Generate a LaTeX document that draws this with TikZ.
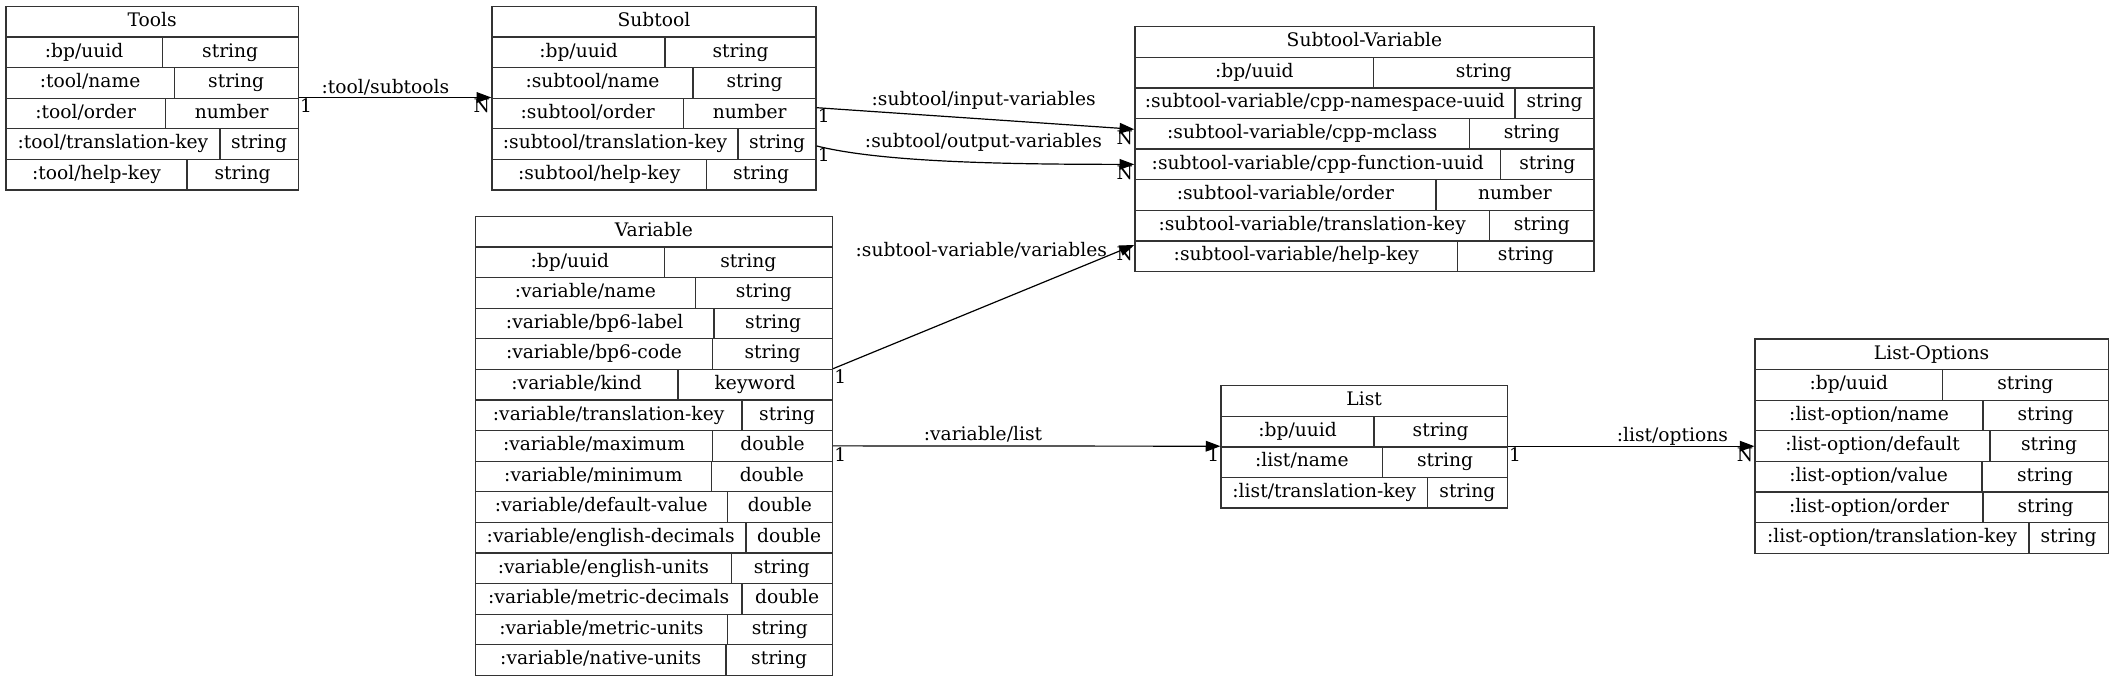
\documentclass[tikz,border=0pt]{standalone}
\usepackage{fontspec}
\setmainfont{DejaVu Serif}
\usetikzlibrary{arrows.meta}

\tikzset{
    cell/.style={draw=black!80, line width=1pt, inner sep=0pt, anchor=north west,
        minimum height=22.95pt, text height=10.5pt, text depth=3.3pt, font=\fontsize{14}{16}\selectfont},
    link/.style={draw=black, line width=0.9pt, -{Triangle[length=11pt, width=8pt]}},
    edgelabel/.style={inner sep=0pt, text height=10.5pt, text depth=3.3pt, font=\fontsize{14}{16}\selectfont},
    endlabel/.style={inner sep=0.5pt, text height=10.5pt, text depth=0pt, font=\fontsize{14}{16}\selectfont}
}

% table: id, left, right, top, title, rows key/type/split
\newcommand{\erTable}[6]{
    \node[cell, minimum width={(#3-#2)*0.75pt}] (#1-0) at (#2, #4) {#5};
    \foreach [count=\i] \k/\t/\d in {#6} {
            \node[cell, minimum width={(\d-#2)*0.75pt}] (#1-\i-k) at (#2, {#4+\i*30.6}) {\k};
            \node[cell, minimum width={(#3-\d)*0.75pt}] (#1-\i-t) at (\d, {#4+\i*30.6}) {\t};
        }
}

\begin{document}
\begin{tikzpicture}[x=0.75pt, y=-0.75pt]
    \useasboundingbox[fill=white] (0,0) rectangle (2112,682);

    \erTable{tools}{5.3}{297.5}{5.7}{Tools}{
        {:bp/uuid}/string/161.5, {:tool/name}/string/173.6, {:tool/order}/number/164.6,
        {:tool/translation-key}/string/219.2, {:tool/help-key}/string/186.3}
    \erTable{subtool}{491.3}{815.3}{5.7}{Subtool}{
        {:bp/uuid}/string/664.4, {:subtool/name}/string/692.4, {:subtool/order}/number/682.9,
        {:subtool/translation-key}/string/737.4, {:subtool/help-key}/string/705.7}
    \erTable{svar}{1134.2}{1593.4}{26}{Subtool-Variable}{
        {:bp/uuid}/string/1373, {:subtool-variable/cpp-namespace-uuid}/string/1514.3,
        {:subtool-variable/cpp-mclass}/string/1468.9, {:subtool-variable/cpp-function-uuid}/string/1500,
        {:subtool-variable/order}/number/1435.2, {:subtool-variable/translation-key}/string/1488.8,
        {:subtool-variable/help-key}/string/1457.1}
    \erTable{variable}{474.7}{831.7}{215.7}{Variable}{
        {:bp/uuid}/string/663.7, {:variable/name}/string/694.7, {:variable/bp6-label}/string/713.3,
        {:variable/bp6-code}/string/712, {:variable/kind}/keyword/677.3,
        {:variable/translation-key}/string/741.3, {:variable/maximum}/double/712,
        {:variable/minimum}/double/710.7, {:variable/default-value}/double/726.7,
        {:variable/english-decimals}/double/745.3, {:variable/english-units}/string/730.7,
        {:variable/metric-decimals}/double/741.3, {:variable/metric-units}/string/726.7,
        {:variable/native-units}/string/725.3}
    \erTable{list}{1220.4}{1506.6}{385}{List}{
        {:bp/uuid}/string/1373.4, {:list/name}/string/1382.1, {:list/translation-key}/string/1426.9}
    \erTable{options}{1754.4}{2107.5}{338.3}{List-Options}{
        {:bp/uuid}/string/1941.7, {:list-option/name}/string/1982.4, {:list-option/default}/string/1989.4,
        {:list-option/value}/string/1981.3, {:list-option/order}/string/1982.4,
        {:list-option/translation-key}/string/2028.4}

    \draw[link] (tools-3-t.north east) node[endlabel, anchor=north west] {1}
        -- node[edgelabel, pos=0.45, yshift=6.9pt] {:tool/subtools}
        (subtool-3-k.north west) node[endlabel, anchor=north east] {N};
    \draw[link] ([yshift=-7.65pt]subtool-3-t.north east) node[endlabel, anchor=north west] {1}
        -- node[edgelabel, pos=0.526, yshift=13.7pt] {:subtool/input-variables}
        ([yshift=-8.6pt]svar-3-k.north west) node[endlabel, anchor=north east] {N};
    \draw[link] ([yshift=-13.4pt]subtool-4-t.north east) node[endlabel, anchor=north west] {1}
        .. controls +(64,16) and +(-133,0) .. node[edgelabel, pos=0.6, yshift=14.6pt] {:subtool/output-variables}
        (svar-4-k.west) node[endlabel, anchor=north east] {N};
    \draw[link] (variable-5-t.north east) node[endlabel, anchor=north west] {1}
        -- ([yshift=-3.6pt]svar-7-k.north west) node[endlabel, anchor=north east] {N}
        node[edgelabel, anchor=east, xshift=-20pt, yshift=-5.2pt] {:subtool-variable/variables};
    \draw[link] (variable-7-t.east) node[endlabel, anchor=north west] {1}
        -- node[edgelabel, pos=0.387, yshift=7.6pt] {:variable/list}
        (list-2-k.north west) node[endlabel, anchor=north east] {1};
    \draw[link] (list-2-t.north east) node[endlabel, anchor=north west] {1}
        -- node[edgelabel, pos=0.667, yshift=6.8pt] {:list/options}
        (list-2-t.north east -| options-3-k.west) node[endlabel, anchor=north east] {N};
\end{tikzpicture}
\end{document}
